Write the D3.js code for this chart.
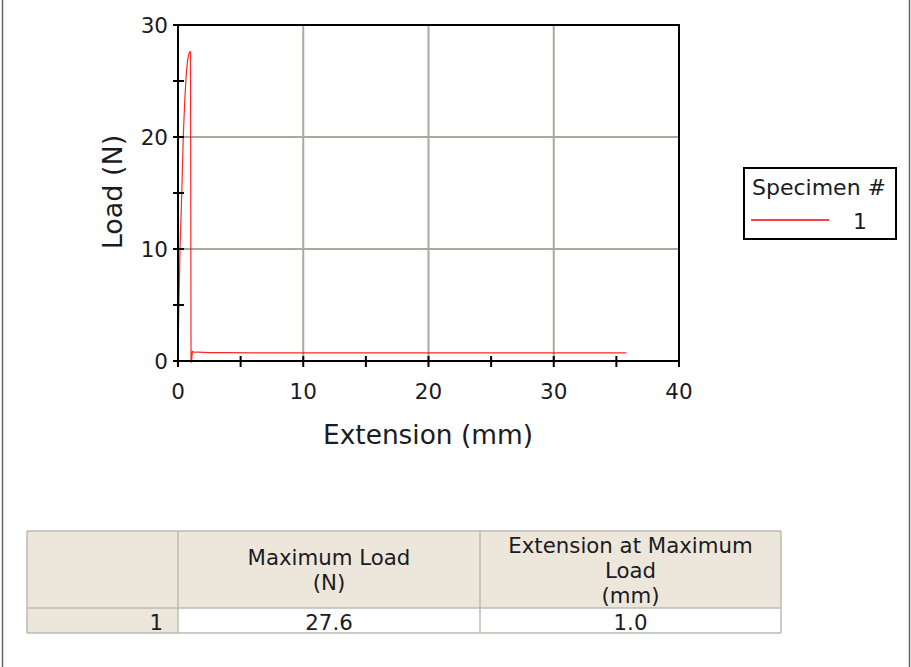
<!DOCTYPE html>
<html><head><meta charset="utf-8">
<script src="https://cdn.jsdelivr.net/npm/d3@7"></script>
<style>
html,body{margin:0;padding:0;background:#fff;}
svg{display:block;font-family:"DejaVu Sans",Verdana,sans-serif;}
</style></head>
<body><svg id="c" width="911" height="667"></svg>
<script>
// Specimen 1 curve: extension (mm) vs load (N)
const extension = [0, 0.03, 0.08, 0.16, 0.3, 0.42, 0.55, 0.66, 0.76, 0.86, 0.94, 1.0, 1.02, 1.04, 1.07, 1.15, 1.3, 1.6, 2.5, 4, 6, 8, 12, 16, 20, 25, 30, 35.8];
const load      = [0, 2.5, 5.5, 10, 15, 20, 23.5, 25.6, 26.8, 27.4, 27.6, 27.6, 14, 0.2, -0.15, 0.85, 0.78, 0.8, 0.75, 0.74, 0.72, 0.72, 0.72, 0.72, 0.72, 0.72, 0.72, 0.72];
const xTicks = [0, 10, 20, 30, 40];
const yTicks = [0, 10, 20, 30];
const xMinor = [5, 15, 25, 35];
const yMinor = [5, 15, 25];
const specimens = ["1"];
const tableHeader = [[""], ["Maximum Load", "(N)"], ["Extension at Maximum", "Load", "(mm)"]];
const tableRows = [["1", "27.6", "1.0"]];

const svg = d3.select("#c");
const W = 911, H = 667;
// page frame
svg.append("line").attr("x1",2.5).attr("x2",2.5).attr("y1",0).attr("y2",H).attr("stroke","#666").attr("stroke-width",1.5);
svg.append("line").attr("x1",909.5).attr("x2",909.5).attr("y1",0).attr("y2",H).attr("stroke","#666").attr("stroke-width",1.5);

const L = 178, T = 25, PW = 501, PH = 336;
const x = d3.scaleLinear().domain([0,40]).range([L, L+PW]);
const y = d3.scaleLinear().domain([0,30]).range([T+PH, T]);
const textCol = "#1b1b24";
const tickFS = 21.5, tblFS = 21.3;

// grid
const g = svg.append("g");
g.selectAll(".gx").data(xTicks.filter(v=>v>0&&v<40)).join("line")
  .attr("x1",d=>x(d)).attr("x2",d=>x(d)).attr("y1",T).attr("y2",T+PH)
  .attr("stroke","#aaa99f").attr("stroke-width",2);
g.selectAll(".gy").data(yTicks.filter(v=>v>0&&v<30)).join("line")
  .attr("y1",d=>y(d)).attr("y2",d=>y(d)).attr("x1",L).attr("x2",L+PW)
  .attr("stroke","#aaa99f").attr("stroke-width",2);

// curve
const pts = extension.map((e,i)=>[e, load[i]]);
svg.append("path").datum(pts)
  .attr("d", d3.line().x(d=>x(d[0])).y(d=>y(d[1])))
  .attr("fill","none").attr("stroke","#ff0000").attr("stroke-width",1.2).attr("stroke-opacity",0.85);

// frame
svg.append("rect").attr("x",L).attr("y",T).attr("width",PW).attr("height",PH)
  .attr("fill","none").attr("stroke","#000").attr("stroke-width",2);

// ticks
const tk = svg.append("g").attr("stroke","#000").attr("stroke-width",2);
tk.selectAll(".tx").data(xTicks.concat(xMinor)).join("line")
  .attr("x1",d=>x(d)).attr("x2",d=>x(d)).attr("y1",T+PH-5).attr("y2",T+PH+6);
tk.selectAll(".ty").data(yTicks.concat(yMinor)).join("line")
  .attr("y1",d=>y(d)).attr("y2",d=>y(d)).attr("x1",L-5).attr("x2",L+6);

// tick labels
svg.selectAll(".lx").data(xTicks).join("text")
  .attr("x",d=>x(d)).attr("y",T+PH+38).attr("text-anchor","middle")
  .attr("font-size",tickFS).attr("fill",textCol).text(d=>d);
svg.selectAll(".ly").data(yTicks).join("text")
  .attr("x",L-10).attr("y",d=>y(d)+8).attr("text-anchor","end")
  .attr("font-size",tickFS).attr("fill",textCol).text(d=>d);

// axis titles
svg.append("text").attr("x",428).attr("y",444).attr("text-anchor","middle")
  .attr("font-size",26.4).attr("fill",textCol).text("Extension (mm)");
svg.append("text").attr("transform","translate(122,192) rotate(-90)").attr("text-anchor","middle")
  .attr("font-size",27).attr("fill",textCol).text("Load (N)");

// legend
const lg = svg.append("g");
lg.append("rect").attr("x",744).attr("y",168).attr("width",152).attr("height",71)
  .attr("fill","#fff").attr("stroke","#000").attr("stroke-width",2);
lg.append("text").attr("x",752).attr("y",195).attr("font-size",22).attr("fill",textCol).text("Specimen #");
specimens.forEach((s,i)=>{
  lg.append("line").attr("x1",751).attr("x2",829).attr("y1",220+i*24).attr("y2",220+i*24)
    .attr("stroke","#ff0000").attr("stroke-width",1.5);
  lg.append("text").attr("x",867).attr("y",229+i*24).attr("text-anchor","end")
    .attr("font-size",22).attr("fill",textCol).text(s);
});

// table
const colX = [27, 178, 480, 781];
const hdrTop = 531, hdrBot = 608, rowBot = 633;
const beige = "#ede6da", border = "#bdbab2";
const tb = svg.append("g");
tb.append("rect").attr("x",colX[0]).attr("y",hdrTop).attr("width",colX[3]-colX[0]).attr("height",hdrBot-hdrTop).attr("fill",beige);
tb.append("rect").attr("x",colX[0]).attr("y",hdrBot).attr("width",colX[1]-colX[0]).attr("height",rowBot-hdrBot).attr("fill",beige);
tb.append("rect").attr("x",colX[1]).attr("y",hdrBot).attr("width",colX[3]-colX[1]).attr("height",rowBot-hdrBot).attr("fill","#fff");
[hdrTop, hdrBot, rowBot].forEach(yy=>tb.append("line").attr("x1",colX[0]).attr("x2",colX[3]).attr("y1",yy).attr("y2",yy).attr("stroke",border).attr("stroke-width",1.5));
colX.forEach(xx=>tb.append("line").attr("x1",xx).attr("x2",xx).attr("y1",hdrTop).attr("y2",rowBot).attr("stroke",border).attr("stroke-width",1.5));
tableHeader.forEach((lines,ci)=>{
  const cx = (colX[ci]+colX[ci+1])/2;
  const mid = (hdrTop+hdrBot)/2;
  const lh = 25;
  lines.forEach((t,li)=>{
    tb.append("text").attr("x",cx).attr("y",mid + (li-(lines.length-1)/2)*lh + 8)
      .attr("text-anchor","middle").attr("font-size",tblFS).attr("fill",textCol).text(t);
  });
});
tableRows.forEach((r,ri)=>{
  const yy = hdrBot + 22 + ri*25;
  tb.append("text").attr("x",colX[1]-15).attr("y",yy).attr("text-anchor","end").attr("font-size",tblFS).attr("fill",textCol).text(r[0]);
  tb.append("text").attr("x",(colX[1]+colX[2])/2).attr("y",yy).attr("text-anchor","middle").attr("font-size",tblFS).attr("fill",textCol).text(r[1]);
  tb.append("text").attr("x",(colX[2]+colX[3])/2).attr("y",yy).attr("text-anchor","middle").attr("font-size",tblFS).attr("fill",textCol).text(r[2]);
});
</script></body></html>
